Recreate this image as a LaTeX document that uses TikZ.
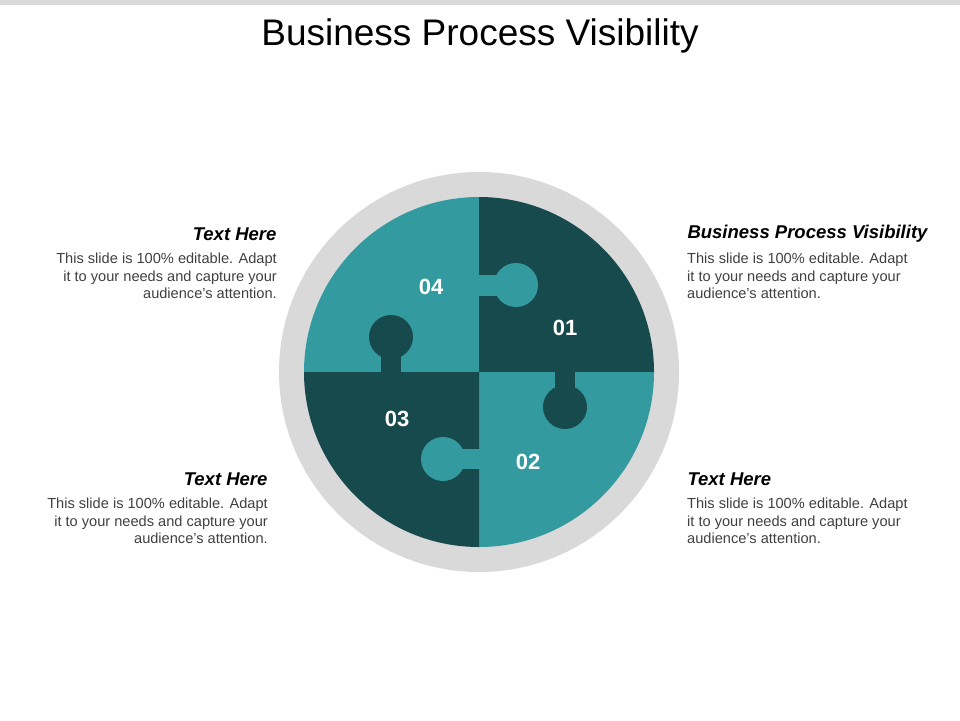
\documentclass[tikz,border=0pt]{standalone}
\usepackage{fontspec}
\setmainfont{Liberation Sans}
\definecolor{darkteal}{HTML}{174A4D}
\definecolor{liteteal}{HTML}{339B9F}
\definecolor{ringgray}{HTML}{D9D9D9}
\newcommand{\bodyfont}{\fontsize{14.6}{17.5}\selectfont\hyphenpenalty=10000\relax}
\tikzset{
  numtext/.style={text=white, font=\fontsize{22}{26}\selectfont\bfseries},
  headtext/.style={font=\fontsize{18.5}{21}\selectfont\bfseries\itshape},
  bodytext/.style={font=\bodyfont, text=black!75, text width=222pt, inner sep=0pt},
}
\begin{document}
\begin{tikzpicture}[x=1pt,y=-1pt]
                \useasboundingbox (0,0) rectangle (960,720);
                \fill[ringgray] (0,0) rectangle (960,5);
                \node (title) at (480,36) {\fontsize{37}{42}\selectfont Business Process Visibility};
                
                % ring and four quarters
                \fill[ringgray] (479,372) circle (200);
                \fill[liteteal] (479,372) -- (304,372) arc[start angle=180, end angle=270, radius=175] -- cycle;
                \fill[darkteal] (479,372) -- (479,197) arc[start angle=270, end angle=360, radius=175] -- cycle;
                \fill[liteteal] (479,372) -- (654,372) arc[start angle=0, end angle=90, radius=175] -- cycle;
                \fill[darkteal] (479,372) -- (479,547) arc[start angle=90, end angle=180, radius=175] -- cycle;
                
                % knobs
                \fill[liteteal] (516,285) circle (22);
                \fill[liteteal] (478,275) rectangle (505,296);
                \fill[darkteal] (391,337) circle (22);
                \fill[darkteal] (381,345) rectangle (401,373);
                \fill[darkteal] (565,407) circle (22);
                \fill[darkteal] (555,371) rectangle (575,400);
                \fill[liteteal] (443,459) circle (22);
                \fill[liteteal] (450,449) rectangle (480,469);
                
                \node[numtext] (n04) at (431,287) {04};
                \node[numtext] (n01) at (565,328) {01};
                \node[numtext] (n03) at (397,419) {03};
                \node[numtext] (n02) at (528,462) {02};
                
                % text blocks
                \node[headtext, anchor=east] (h4) at (280,234) {Text Here};
                \node[bodytext, anchor=north east, align=flush right] (b4) at (277,253) {This slide is 100\% editable. Adapt it to your needs and capture your audience's attention.};
                \node[headtext, anchor=west] (h1) at (684,234) {Business Process Visibility};
                \node[bodytext, anchor=north west, align=flush left] (b1) at (687,253) {This slide is 100\% editable. Adapt it to your needs and capture your audience's attention.};
                \node[headtext, anchor=east] (h3) at (271,479) {Text Here};
                \node[bodytext, anchor=north east, align=flush right] (b3) at (268,498) {This slide is 100\% editable. Adapt it to your needs and capture your audience's attention.};
                \node[headtext, anchor=west] (h2) at (684,479) {Text Here};
                \node[bodytext, anchor=north west, align=flush left] (b2) at (687,498) {This slide is 100\% editable. Adapt it to your needs and capture your audience's attention.};
            \end{tikzpicture}
\end{document}
